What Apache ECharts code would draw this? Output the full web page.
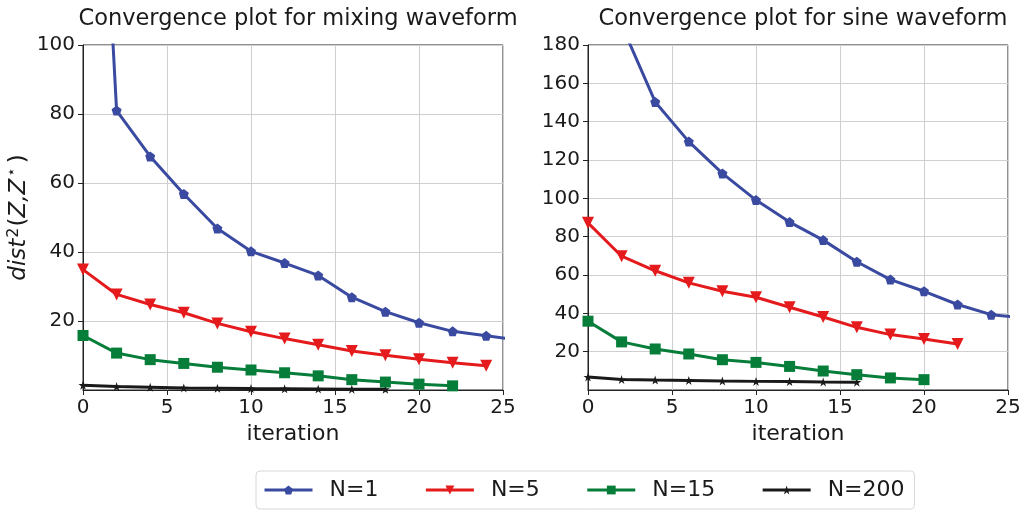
<!DOCTYPE html>
<html>
<head>
<meta charset="utf-8">
<script src="https://cdn.jsdelivr.net/npm/echarts@6/dist/echarts.min.js"></script>
<style>
html,body{margin:0;padding:0;background:#fff;}
#c{width:1026px;height:514px;}
</style>
</head>
<body>
<div id="c"></div>
<script>
// ---- data ----
var seriesNames = ['N=1', 'N=5', 'N=15', 'N=200'];
var titles = ['Convergence plot for mixing waveform', 'Convergence plot for sine waveform'];

// mixing waveform (left)
var mixIterN1 = [0, 2, 4, 6, 8, 10, 12, 14, 16, 18, 20, 22, 24, 26];
var mixN1 = [262, 81.0, 67.7, 56.8, 46.8, 40.2, 36.8, 33.2, 26.9, 22.7, 19.5, 17.0, 15.7, 14.5];
var mixIterN5 = [0, 2, 4, 6, 8, 10, 12, 14, 16, 18, 20, 22, 24];
var mixN5 = [34.9, 27.7, 24.8, 22.4, 19.3, 16.9, 14.9, 13.1, 11.3, 10.1, 8.9, 7.9, 7.0];
var mixIterN15 = [0, 2, 4, 6, 8, 10, 12, 14, 16, 18, 20, 22];
var mixN15 = [15.8, 10.7, 8.8, 7.7, 6.6, 5.8, 5.0, 4.1, 3.0, 2.3, 1.7, 1.2];
var mixIterN200 = [0, 2, 4, 6, 8, 10, 12, 14, 16, 18];
var mixN200 = [1.4, 1.0, 0.8, 0.6, 0.5, 0.4, 0.35, 0.3, 0.25, 0.2];

// sine waveform (right)
var sineIterN1 = [0, 2, 4, 6, 8, 10, 12, 14, 16, 18, 20, 22, 24, 26];
var sineN1 = [240, 190.4, 150.3, 129.6, 113.0, 99.1, 87.6, 78.2, 66.9, 57.6, 51.5, 44.6, 39.3, 37.7];
var sineIterN5 = [0, 2, 4, 6, 8, 10, 12, 14, 16, 18, 20, 22];
var sineN5 = [87.2, 69.8, 62.2, 55.9, 51.5, 48.4, 43.2, 38.1, 32.7, 28.9, 26.6, 24.0];
var sineIterN15 = [0, 2, 4, 6, 8, 10, 12, 14, 16, 18, 20];
var sineN15 = [35.9, 25.1, 21.4, 18.8, 15.8, 14.4, 12.3, 9.9, 8.0, 6.3, 5.4];
var sineIterN200 = [0, 2, 4, 6, 8, 10, 12, 14, 16];
var sineN200 = [6.8, 5.5, 5.2, 5.0, 4.7, 4.5, 4.4, 4.2, 4.1];

var leftYMax = 100, rightYMax = 180;

// ---- styling ----
var colors = ['#3a4aa0', '#e41a1c', '#077d3a', '#1a1a1a'];
var pentagon = 'path://M0,-1 L0.951,-0.309 L0.588,0.809 L-0.588,0.809 L-0.951,-0.309 Z';
var star = 'path://M0,-1 L0.2245,-0.309 L0.951,-0.309 L0.3633,0.118 L0.5878,0.809 L0,0.382 L-0.5878,0.809 L-0.3633,0.118 L-0.951,-0.309 L-0.2245,-0.309 Z';
var symbols = [pentagon, 'triangle', 'rect', star];
var symbolSizes = [10, 12, 11, 9];
var symbolRotates = [0, 180, 0, 0];
var FONT = 'DejaVu Sans';
var TXT = '#1a1a1a';

function pairs(xs, ys) { return xs.map(function (x, i) { return [x, ys[i]]; }); }

var gridsData = [
  [pairs(mixIterN1, mixN1), pairs(mixIterN5, mixN5), pairs(mixIterN15, mixN15), pairs(mixIterN200, mixN200)],
  [pairs(sineIterN1, sineN1), pairs(sineIterN5, sineN5), pairs(sineIterN15, sineN15), pairs(sineIterN200, sineN200)]
];

var series = [];
gridsData.forEach(function (g, gi) {
  g.forEach(function (d, si) {
    series.push({
      name: seriesNames[si],
      type: 'line',
      xAxisIndex: gi,
      yAxisIndex: gi,
      data: d,
      clip: true,
      symbol: symbols[si],
      symbolSize: symbolSizes[si],
      symbolRotate: symbolRotates[si],
      showAllSymbol: true,
      lineStyle: { width: 3, color: colors[si] },
      itemStyle: { color: colors[si] },
      emphasis: { disabled: true },
      animation: false,
      z: 10 - si
    });
  });
});

function xAxisCfg(gi) {
  return {
    type: 'value', gridIndex: gi, min: 0, max: 25, interval: 5,
    name: 'iteration', nameLocation: 'middle', nameGap: 31,
    nameTextStyle: { fontFamily: FONT, fontSize: 22, color: TXT },
    axisLine: { show: true, lineStyle: { color: '#222', width: 1 } },
    axisTick: { show: true, length: 5, lineStyle: { color: '#222' } },
    axisLabel: { fontFamily: FONT, fontSize: 20, color: TXT, margin: 8 },
    splitLine: { show: true, lineStyle: { color: '#cfcfcf', width: 1 } }
  };
}
function yAxisCfg(gi, max) {
  var cfg = {
    type: 'value', gridIndex: gi, min: 0, max: max, interval: 20,
    axisLine: { show: true, lineStyle: { color: '#222', width: 1 } },
    axisTick: { show: true, length: 5, lineStyle: { color: '#222' } },
    axisLabel: { fontFamily: FONT, fontSize: 20, color: TXT, margin: 8, showMinLabel: false },
    splitLine: { show: true, lineStyle: { color: '#cfcfcf', width: 1 } }
  };
  if (gi === 0) {
    cfg.name = '{i|dist}{s|2}{n|(}{i|Z,Z}{t|⋆}{n|)}';
    cfg.nameLocation = 'middle';
    cfg.nameGap = 49;
    cfg.nameRotate = 90;
    cfg.nameTextStyle = {
      fontFamily: FONT, fontSize: 23, color: TXT,
      rich: {
        i: { fontFamily: FONT, fontSize: 23, fontStyle: 'italic', color: TXT },
        n: { fontFamily: FONT, fontSize: 23, color: TXT },
        s: { fontFamily: FONT, fontSize: 16, color: TXT, padding: [0, 1, 12, 1] },
        t: { fontFamily: FONT, fontSize: 15, color: TXT, padding: [0, 4, 14, 2] }
      }
    };
  }
  return cfg;
}

var chart = echarts.init(document.getElementById('c'), null, { renderer: 'canvas' });
chart.setOption({
  animation: false,
  backgroundColor: '#ffffff',
  color: colors,
  title: [
    { text: titles[0], left: 293, top: 3, textAlign: 'center',
      textStyle: { fontFamily: FONT, fontSize: 22.5, fontWeight: 'normal', color: TXT } },
    { text: titles[1], left: 798, top: 3, textAlign: 'center',
      textStyle: { fontFamily: FONT, fontSize: 22.5, fontWeight: 'normal', color: TXT } }
  ],
  grid: [
    { left: 83, top: 45, width: 420, height: 345, show: true, borderColor: '#222', borderWidth: 1, backgroundColor: 'transparent' },
    { left: 588, top: 45, width: 420, height: 345, show: true, borderColor: '#222', borderWidth: 1, backgroundColor: 'transparent' }
  ],
  xAxis: [xAxisCfg(0), xAxisCfg(1)],
  yAxis: [yAxisCfg(0, leftYMax), yAxisCfg(1, rightYMax)],
  legend: {
    data: seriesNames,
    left: 256, top: 471,
    padding: [8, 10, 8, 7],
    itemWidth: 48, itemHeight: 11, itemGap: 46,
    lineStyle: { width: 3 },
    borderColor: '#d8d8d8', borderWidth: 1, borderRadius: 4,
    textStyle: { fontFamily: FONT, fontSize: 22, color: TXT, padding: [0, 0, 0, 12] }
  },
  series: series
});
</script>
</body>
</html>
